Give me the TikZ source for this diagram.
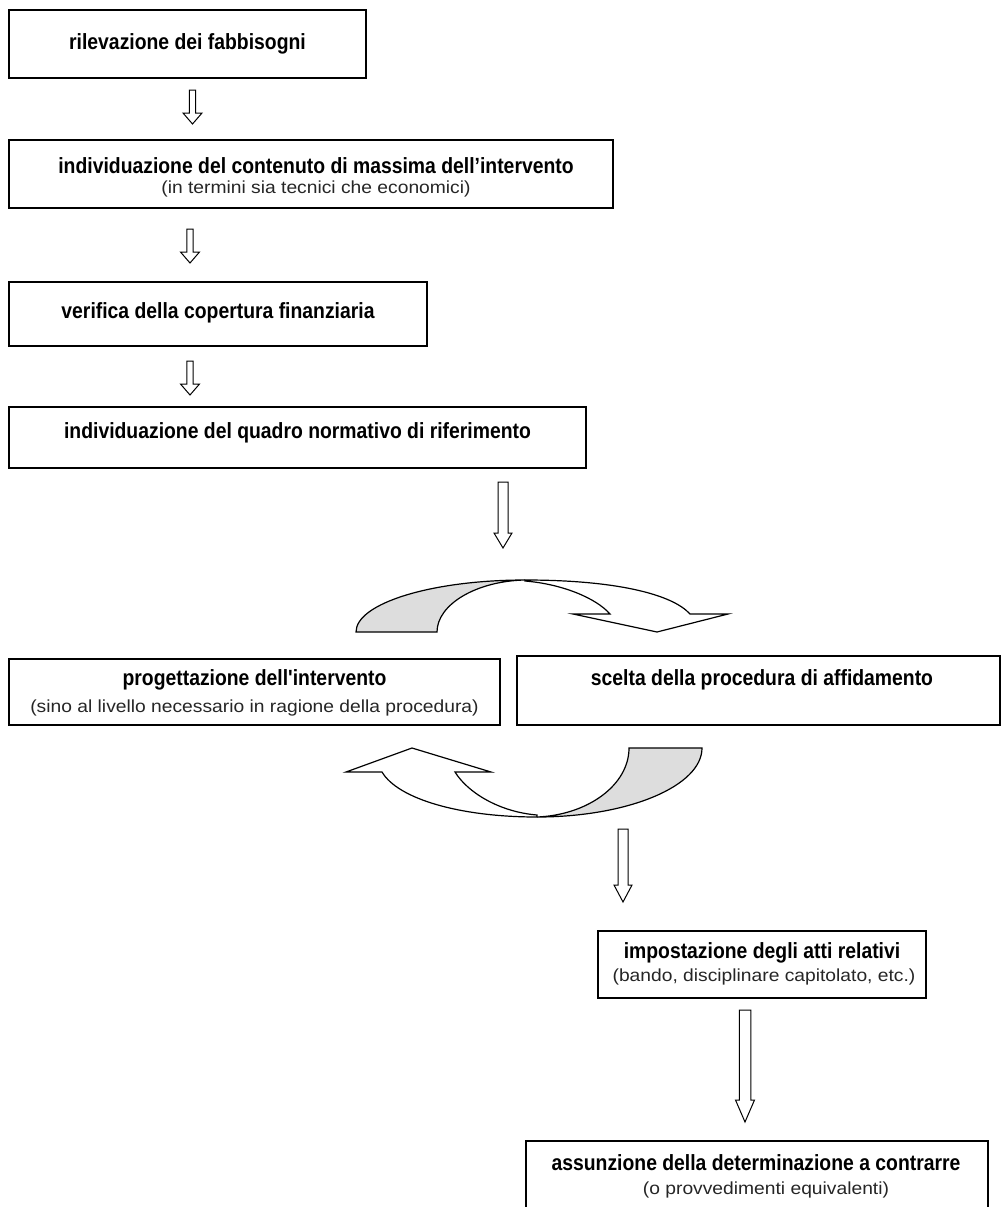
\documentclass[tikz,border=0pt]{standalone}
\usepackage{fontspec}
\setmainfont{Liberation Sans}
\newfontfamily\narrowfont{Liberation Sans}[FakeStretch=0.88]
\newfontfamily\subfont{Liberation Sans}[FakeStretch=1.1]
\definecolor{ribbon}{HTML}{DDDDDD}
\begin{document}
\begin{tikzpicture}[x=1pt,y=-1pt,
  box/.style={draw=black,line width=1.2pt,rectangle,inner sep=0pt},
  maintext/.style={inner sep=0pt,font=\narrowfont\bfseries\fontsize{22}{26}\selectfont},
  subtext/.style={inner sep=0pt,font=\subfont\fontsize{17.5}{20}\selectfont,text=black!85},
  harrow/.style={draw=black,line width=1pt,fill=white,line join=miter},
  ribbonback/.style={draw=black,line width=1.2pt,fill=ribbon},
  ribbonfront/.style={draw=black,line width=1.2pt,fill=white}]
\newcommand\myblockarrow[6]{% x, top, tip, shaft width, head width, head length
  \draw[harrow] ({#1-#4/2},#2) -- ({#1-#4/2},{#3-#6}) -- ({#1-#5/2},{#3-#6}) -- (#1,#3)
    -- ({#1+#5/2},{#3-#6}) -- ({#1+#4/2},{#3-#6}) -- ({#1+#4/2},#2) -- cycle;}
\clip (0,0) rectangle (1007,1207);
\fill[white] (0,0) rectangle (1007,1207);

% boxes
\node[box,minimum width=357pt,minimum height=68pt] (b1) at (187.5,44) {};
\node[maintext] (t1) at (b1.center) {rilevazione dei fabbisogni};

\node[box,minimum width=604pt,minimum height=68pt] (b2) at (311,174) {};
\node[maintext] (t2) at (316,166) {individuazione del contenuto di massima dell’intervento};
\node[subtext] (s2) at (316,189) {(in termini sia tecnici che economici)};

\node[box,minimum width=418pt,minimum height=64pt] (b3) at (218,314) {};
\node[maintext] (t3) at (218,313) {verifica della copertura finanziaria};

\node[box,minimum width=577pt,minimum height=61pt] (b4) at (297.5,437.5) {};
\node[maintext] (t4) at (297.5,433) {individuazione del quadro normativo di riferimento};

\node[box,minimum width=491pt,minimum height=66pt] (b5) at (254.5,692) {};
\node[maintext] (t5) at (254.5,680) {progettazione dell'intervento};
\node[subtext] (s5) at (254.5,708) {(sino al livello necessario in ragione della procedura)};

\node[box,minimum width=483pt,minimum height=69pt] (b6) at (758.5,690.5) {};
\node[maintext] (t6) at (762,680) {scelta della procedura di affidamento};

\node[box,minimum width=328pt,minimum height=67pt] (b7) at (762,964.5) {};
\node[maintext] (t7) at (762,953) {impostazione degli atti relativi};
\node[subtext] (s7) at (764,977) {(bando, disciplinare capitolato, etc.)};

\node[box,minimum width=462pt,minimum height=80pt] (b8) at (757,1181) {};
\node[maintext] (t8) at (756,1163) {assunzione della determinazione a contrarre};
\node[subtext] (s8) at (766,1190) {(o provvedimenti equivalenti)};

% straight block arrows
\myblockarrow{192.5}{90}{124}{6.4}{19}{11}
\myblockarrow{190}{229}{263}{6.4}{19}{11}
\myblockarrow{190}{361}{395}{6.4}{19}{11}
\myblockarrow{503}{482}{548}{10}{18}{15}
\myblockarrow{623}{829}{902}{10}{18}{17}
\myblockarrow{745}{1010}{1122}{11.5}{19}{22}

% upper curved arrow
\draw[ribbonfront] (525,580) .. controls (615,580) and (672,594) .. (690,614)
  -- (728,614) -- (657,632) -- (573,614) -- (610,614)
  .. controls (596,598) and (562,584) .. (525,581) -- cycle;
\draw[ribbonback] (356,632) .. controls (356,603.3) and (431.7,580) .. (525,580)
  .. controls (476.4,581) and (437,604.4) .. (437,632) -- cycle;

% lower curved arrow
\draw[ribbonfront] (537,817) .. controls (460,817) and (398,799) .. (382,772)
  -- (346,772) -- (412,748) -- (491,772) -- (455,772)
  .. controls (468,793) and (500,812) .. (537,815) -- cycle;
\draw[ribbonback] (702,748) .. controls (702,786.1) and (628.1,817) .. (537,817)
  .. controls (587.8,815) and (629,785) .. (629,748) -- cycle;
\end{tikzpicture}
\end{document}
